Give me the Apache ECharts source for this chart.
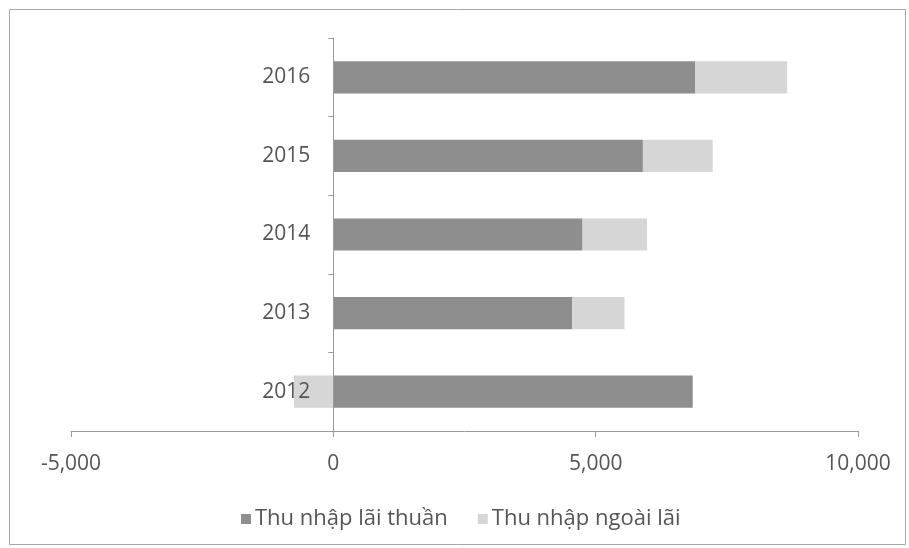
<!DOCTYPE html>
<html>
<head>
<meta charset="utf-8">
<script src="https://cdn.jsdelivr.net/npm/echarts@6/dist/echarts.min.js"></script>
<style>
  html, body { margin: 0; padding: 0; background: #fff; }
  #chart { width: 909px; height: 548px; }
</style>
</head>
<body>
<div id="chart"></div>
<script>
// years, bottom to top as drawn
const years = ['2012', '2013', '2014', '2015', '2016'];
const netInterest = [6850, 4550, 4750, 5900, 6900];
const nonInterest = [-750, 1000, 1230, 1330, 1750];
const xTicks = [-5000, 0, 5000, 10000];

const font = '"Open Sans", sans-serif';
const gridLeft = 71, gridRight = 51;
// the category axis sits at x = 0, not at the grid's left edge
const plotWidth = 909 - gridLeft - gridRight;
const zeroShift = plotWidth * (0 - xTicks[0]) / (xTicks[xTicks.length - 1] - xTicks[0]);

const chart = echarts.init(document.getElementById('chart'));

chart.setOption({
  animation: false,
  graphic: [{
    type: 'rect',
    shape: { x: 9.5, y: 9.5, width: 896, height: 535 },
    style: { fill: 'none', stroke: '#a8a8a8', lineWidth: 1 }
  }],
  grid: { left: gridLeft, right: gridRight, top: 38, bottom: 117 },
  legend: {
    left: 236,
    top: 503,
    itemWidth: 10,
    itemHeight: 10,
    itemGap: 30,
    icon: 'rect',
    textStyle: { fontFamily: font, fontSize: 22, color: '#555', padding: [0, 0, 0, -1] },
    data: ['Thu nhập lãi thuần', 'Thu nhập ngoài lãi']
  },
  xAxis: {
    type: 'value',
    min: xTicks[0],
    max: xTicks[xTicks.length - 1],
    interval: 5000,
    splitLine: { show: false },
    axisLine: { show: true, lineStyle: { color: '#9a9a9a' } },
    axisTick: { show: true, length: 6, lineStyle: { color: '#9a9a9a' } },
    axisLabel: {
      fontFamily: font, fontSize: 21, color: '#555', margin: 23,
      formatter: v => v.toLocaleString('en-US')
    }
  },
  yAxis: {
    type: 'category',
    data: years,
    z: 5,
    offset: -zeroShift,
    axisLine: { onZero: false, lineStyle: { color: '#9a9a9a' } },
    axisTick: { show: true, length: 5, lineStyle: { color: '#9a9a9a' } },
    axisLabel: { fontFamily: font, fontSize: 21, color: '#555', margin: 23 }
  },
  series: [
    {
      name: 'Thu nhập lãi thuần',
      type: 'bar',
      stack: 'total',
      data: netInterest,
      barCategoryGap: '59%',
      itemStyle: { color: '#8e8e8e' }
    },
    {
      name: 'Thu nhập ngoài lãi',
      type: 'bar',
      stack: 'total',
      data: nonInterest,
      itemStyle: { color: '#d6d6d6' }
    }
  ]
});
</script>
</body>
</html>
